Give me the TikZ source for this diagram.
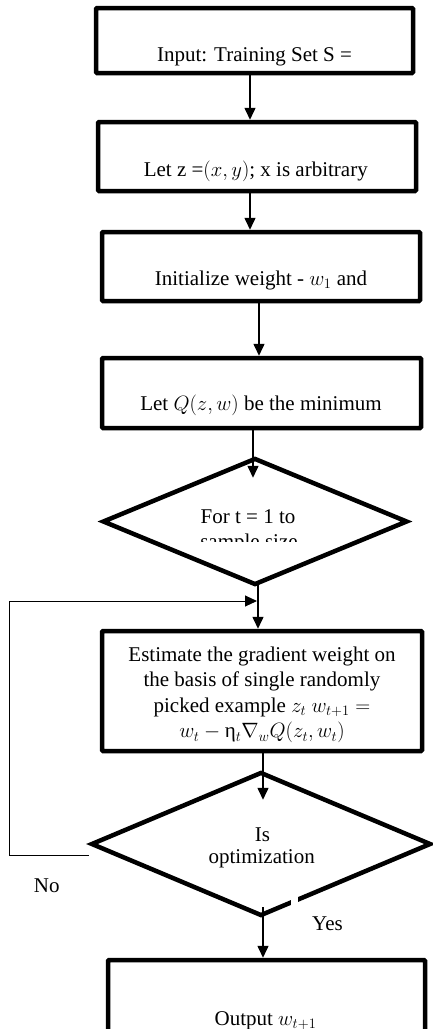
\documentclass[tikz,border=0pt]{standalone}
\usepackage{fontspec}
\setmainfont{Liberation Serif}
\newfontfamily\tnr{Liberation Serif}
\usetikzlibrary{arrows.meta,shapes.geometric,calc}
\begin{document}
\begin{tikzpicture}[x=1pt,y=-1pt,
  box/.style={draw,line width=4.5pt,rectangle,rounded corners=1pt,inner sep=0pt,fill=white},
  dia/.style={draw,line width=4.5pt,diamond,inner sep=0pt,fill=white},
  lbl/.style={inner sep=0pt,anchor=base,font=\tnr\fontsize{21}{25.5}\selectfont},
  flow/.style={line width=1.5pt,-{Triangle[width=11pt,length=12pt]}},
  thin/.style={line width=1pt}]
\useasboundingbox (0,0) rectangle (433,1029);
\clip (0,0) rectangle (433,1029);
% boxes
\node[box,minimum width=317pt,minimum height=65pt] (b1) at (254.5,40.5) {};
\node[box,minimum width=318pt,minimum height=69pt] (b2) at (257,156.5) {};
\node[box,minimum width=318pt,minimum height=69pt] (b3) at (261,266.5) {};
\node[box,minimum width=319pt,minimum height=70pt] (b4) at (261.5,393) {};
\node[dia,minimum width=305pt,minimum height=127pt] (d1) at (255,521.5) {};
\node[box,minimum width=320pt,minimum height=120pt] (b5) at (262,691) {};
\node[dia,minimum width=340pt,minimum height=144pt] (d2) at (261,844) {};
\node[box,minimum width=317pt,minimum height=100pt] (b6) at (266.5,1010) {};
% texts
\node[lbl] (t1) at (254.5,61) {Input: Training Set S =};
\node[lbl] (t2) at (255.8,176) {Let z =$(x,y)$; x is arbitrary};
\node[lbl] (t3) at (261,285) {Initialize weight - $w_1$ and};
\node[lbl] (t4) at (261,410) {Let $Q(z,w)$ be the minimum};
\begin{scope}
\clip (100,480) rectangle (410,541.5);
\node[lbl] (t5a) at (248,523) {For t = 1 to};
\node[lbl] (t5b) at (249,548) {sample size};
\end{scope}
\node[lbl,anchor=center,align=center] (t6) at (262,695) {Estimate the gradient weight on\\the basis of single randomly\\picked example $z_t$ $w_{t+1} =$\\$w_t -{}$η$_t\nabla_w Q(z_t,w_t)$};
\node[lbl] (t7a) at (262.5,841.7) {Is};
\node[lbl] (t7b) at (261.7,863) {optimization};
\node[lbl] (tno) at (46.7,892.7) {No};
\node[lbl] (tyes) at (327.5,930.7) {Yes};
\node[lbl] (t8) at (265.5,1025) {Output $w_{t+1}$};
% gap in diamond edge
\fill[white] (291,894) rectangle (297.5,906);
% connectors
\draw[flow] (b1.south -| 250,0) -- (b2.north -| 250,0);
\draw[flow] (b2.south -| 250,0) -- (b3.north -| 250,0);
\draw[flow] (b3.south -| 259,0) -- (b4.north -| 259,0);
\draw[flow] (b4.south -| 253,0) -- ($(d1.north -| 253,0)+(0,22)$);
\draw[flow] ($(d1.south -| 258,0)+(0,-4)$) -- (b5.north -| 258,0);
\draw[flow] (b5.south -| 263,0) -- ($(d2.north -| 263,0)+(0,30)$);
\draw[flow] ($(d2.south -| 263,0)+(0,-11)$) -- (b6.north -| 263,0);
\coordinate (lc1) at (9,855);
\coordinate (lc2) at (9,601);
\coordinate (lc3) at (257,601);
\draw[thin] ($(d2.west)+(0,11)$) -- (lc1) -- (lc2);
\draw[thin,-{Triangle[width=11pt,length=12pt]}] (lc2) -- (lc3);
\end{tikzpicture}
\end{document}
